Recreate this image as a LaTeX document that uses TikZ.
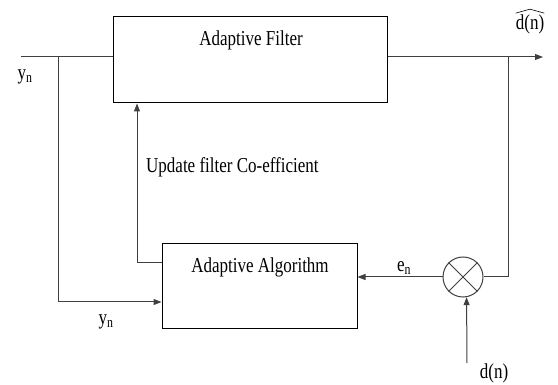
\documentclass[tikz,border=0pt]{standalone}
\usepackage{fontspec}
\setmainfont{Liberation Serif}
\usetikzlibrary{positioning,arrows.meta}

\newcommand{\tall}[1]{\scalebox{1}[1.25]{#1}}

\tikzset{
  block/.style={draw=black, line width=1pt, inner sep=0pt},
  wire/.style={draw=black!75, line width=1pt},
  tip/.style={-{Triangle[length=8pt,width=6pt]}},
  lbl/.style={font=\fontsize{17}{19}\selectfont, inner sep=0pt}
}

\begin{document}
\begin{tikzpicture}[x=1pt,y=-1pt]
            \useasboundingbox (0,0) rectangle (558,385);

            \node[block, minimum width=274pt, minimum height=86pt] (filt) at (250,60) {};
            \node[block, minimum width=195pt, minimum height=85pt] (alg) at (259.5,286.5) {};
            \node[circle, draw=black!75, line width=1pt, minimum size=40pt, inner sep=0pt] (mix) at (463,277) {};
            \draw[wire] (mix.45) -- (mix.225);
            \draw[wire] (mix.135) -- (mix.315);

            \coordinate (in) at (21,57);
            \coordinate (split) at (58,57);
            \coordinate (yb) at (58,302);
            \coordinate (upd) at (137,263);
            \coordinate (tap) at (508,57);
            \coordinate (out) at (543,57);
            \coordinate (dsrc) at (467,363);

            \draw[wire] (in) -- (filt.west |- in);
            \draw[wire, tip] (split) -- (yb) -- (alg.west |- yb);
            \draw[wire, tip] (alg.west |- upd) -- (upd) -- (upd |- filt.south);
            \draw[wire, tip] (filt.east |- in) -- (out);
            \draw[wire] (tap) |- (mix.east);
            \draw[wire, tip] (mix.west) -- (alg.east |- mix);
            \draw[wire, tip] (dsrc) -- (mix.-80);

            \node[lbl] (ftxt) at (251,40) {\tall{Adaptive Filter}};
            \node[lbl] (atxt) at (260,267) {\tall{Adaptive Algorithm}};
            \node[lbl, anchor=west] (utxt) at (146,167) {\tall{Update filter Co-efficient}};
            \node[lbl] (yin) at (25,77) {\tall{y\textsubscript{n}}};
            \node[lbl] (yalg) at (106,322) {\tall{y\textsubscript{n}}};
            \node[lbl] (err) at (404,268) {\tall{e\textsubscript{n}}};
            \node[lbl] (dn) at (494,373) {\tall{d(n)}};
            \node[lbl] (dhat) at (530,24) {\tall{d(n)}};
            \draw[line width=0.6pt] ([yshift=1pt]dhat.north west) -- ([yshift=5pt]dhat.north) -- ([yshift=1pt]dhat.north east);
        \end{tikzpicture}
\end{document}
